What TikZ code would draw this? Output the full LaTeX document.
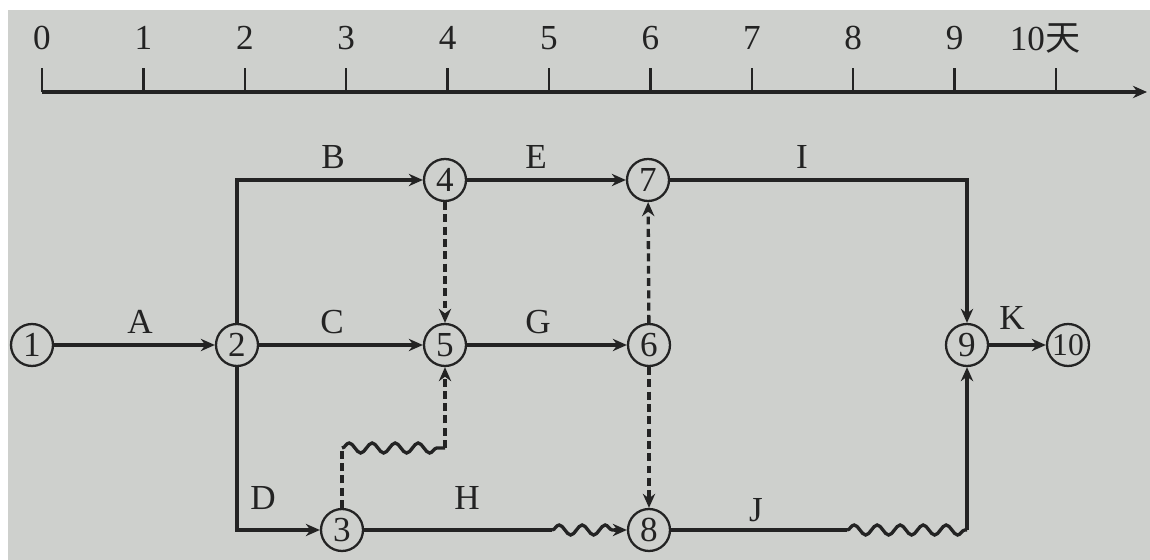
\documentclass[tikz,border=0pt]{standalone}
\usepackage{fontspec}
\setmainfont{Liberation Serif}
\newfontfamily\cjk{Noto Sans CJK SC}
\usetikzlibrary{arrows.meta,decorations.pathmorphing}
\definecolor{paper}{RGB}{206,208,205}
\definecolor{ink}{RGB}{35,35,35}
\tikzset{
  event/.style={circle,draw=ink,line width=1.3pt,minimum size=0.84cm,inner sep=0pt},
  dummy/.style={->,dash pattern=on 4.5pt off 2.5pt},
  wave/.style={decorate,decoration={snake,amplitude=0.1cm,segment length=0.46cm}},
}
\begin{document}
\begin{tikzpicture}[x=0.02cm,y=-0.02cm,line width=1.9pt,draw=ink,text=ink,
    >={Stealth[length=8pt,width=7pt]},font=\fontsize{20}{24}\selectfont]
  \fill[white] (0,0) rectangle (1150,560);
  \fill[paper] (8,10) rectangle (1150,560);
  \useasboundingbox (0,0) rectangle (1150,560);
  \coordinate (t0) at (42,92);
  \coordinate (tend) at (1147,92);
  \draw[->] (t0) -- (tend);
  \foreach \i in {0,...,10}
    \draw[line width=1.4pt] (42+101.4*\i,92) -- ++(0,-24);
  \foreach \i in {0,...,9}
    \node at (42+101.4*\i,38) {\i};
  \node at (1045,38) {10{\cjk 天}};
  \draw
    (32,345) node[event] (1){1}
    (237,345) node[event] (2){2}
    (342,530) node[event] (3){3}
    (445,180) node[event] (4){4}
    (445,345) node[event] (5){5}
    (649,345) node[event] (6){6}
    (648,180) node[event] (7){7}
    (649,530) node[event] (8){8}
    (967,345) node[event] (9){9}
    (1068,345) node[event,font=\fontsize{18}{20}\selectfont] (10){10};
  \coordinate (c1) at (342,448);
  \coordinate (c2) at (445,448);
  \coordinate (h1) at (552,530);
  \coordinate (h2) at (614,530);
  \coordinate (j1) at (847,530);
  \coordinate (j2) at (967,530);
  \begin{scope}[->]
    \draw (1) -- (2);
    \draw (2) |- (4);
    \draw (2) -- (5);
    \draw (2) |- (3);
    \draw (4) -- (7);
    \draw (5) -- (6);
    \draw (7) -| (9);
    \draw (9) -- (10);
    \draw (h2) -- (8);
    \draw (j2) -- (9);
  \end{scope}
  \draw[dummy] (4) -- (5);
  \draw[dummy] (6) -- (7);
  \draw[dummy] (6) -- (8);
  \draw[dash pattern=on 4.5pt off 2.5pt] (3) -- (c1);
  \draw[wave] (c1) -- (c2);
  \draw[dummy] (c2) -- (5);
  \draw (3) -- (h1);
  \draw[wave] (h1) -- (h2);
  \draw (8) -- (j1);
  \draw[wave] (j1) -- (j2);
  \node at (140,322) {A};
  \node at (333,157) {B};
  \node at (332,322) {C};
  \node at (263,498) {D};
  \node at (536,157) {E};
  \node at (538,322) {G};
  \node at (467,498) {H};
  \node at (802,157) {I};
  \node at (756,510) {J};
  \node at (1012,318) {K};
\end{tikzpicture}
\end{document}
